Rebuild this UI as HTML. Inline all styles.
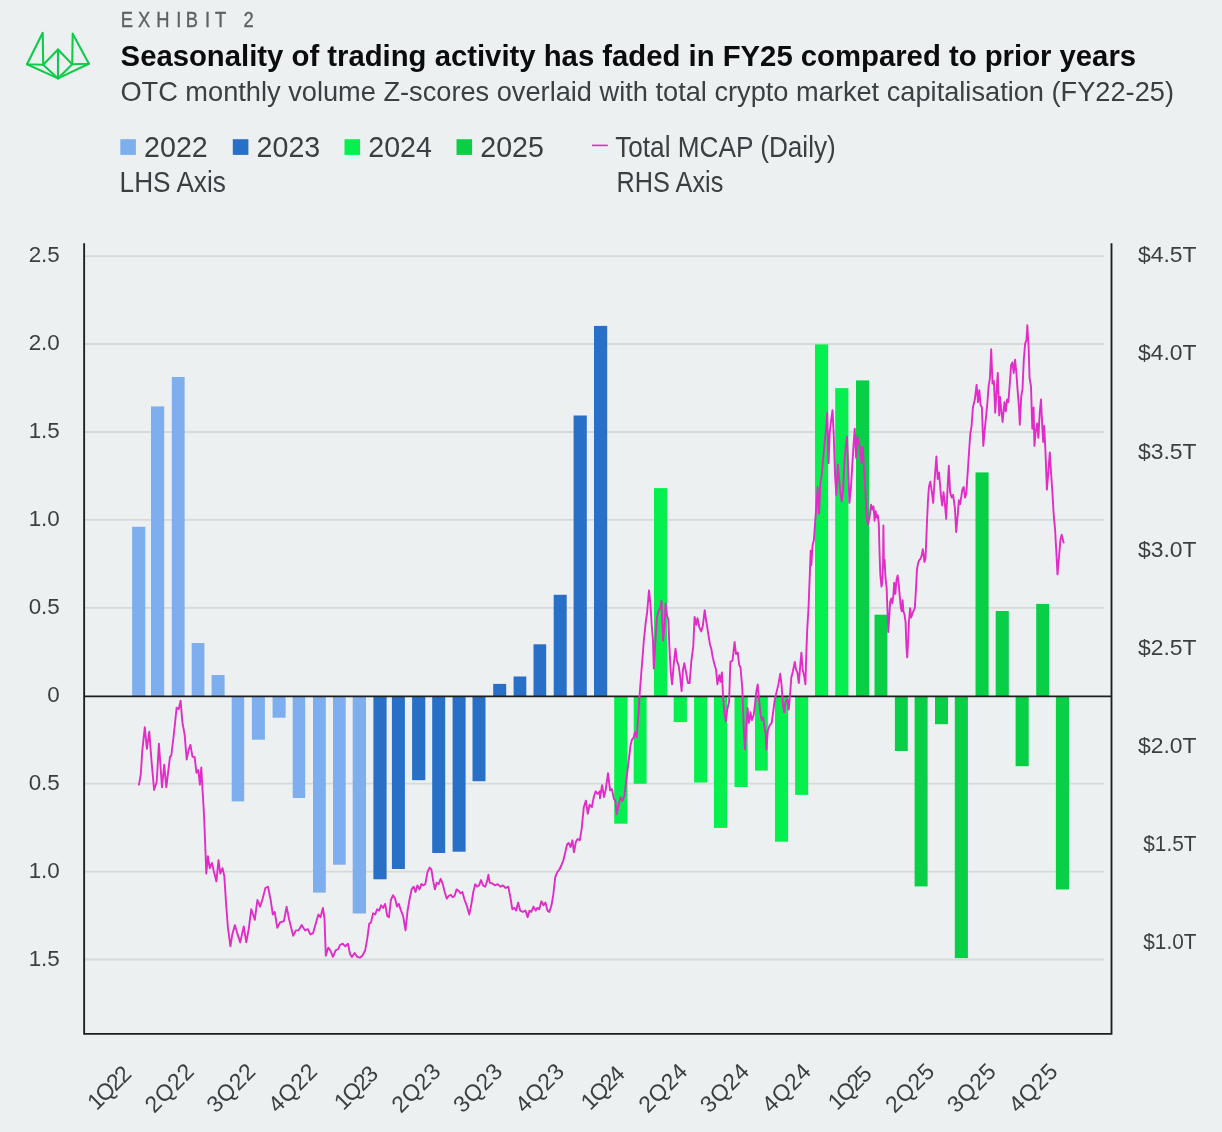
<!DOCTYPE html>
<html lang="en"><head><meta charset="utf-8"><title>Exhibit 2</title>
<style>
html,body{margin:0;padding:0;background:#ecf0f0;}
body{width:1222px;height:1132px;overflow:hidden;}
svg{display:block;}
text{font-family:"Liberation Sans",sans-serif;fill:#3b3f43;}
.ax{font-size:22.4px;}
.xl{font-size:23px;}
.lg{font-size:28.8px;}
</style></head><body>
<svg width="1222" height="1132" viewBox="0 0 1222 1132">
<rect width="1222" height="1132" fill="#ecf0f0"/>
<g fill="none" stroke="#10cb4b" stroke-width="2.1" stroke-linejoin="round" stroke-linecap="round">
<path d="M42.7 32.8 L27 64.2 L43.2 64.7 Z"/>
<path d="M72.7 33.7 L72.2 64.2 L88.9 63.7 Z"/>
<path d="M43.2 64.7 L58 49.5 L72.2 64.2"/>
<path d="M58 49.5 L58 78.4"/>
<path d="M27 64.2 L58 78.4 L88.9 63.7"/>
<path d="M43.2 64.7 L58 78.4 L72.2 64.2"/>
</g>
<text y="26.6" x="142.0 162.5 183.9 207.4 218.6 241.3 252.9 270.6 286.6" transform="scale(0.85 1)" style="font-size:21.6px;fill:#5d6164;stroke:#5d6164;stroke-width:0.35px">EXHIBIT 2</text>
<text x="120.6" y="65.6" style="font-size:29.5px;font-weight:bold;fill:#0b0c0e" textLength="1015.5" lengthAdjust="spacingAndGlyphs">Seasonality of trading activity has faded in FY25 compared to prior years</text>
<text x="120.4" y="101" style="font-size:27.5px" textLength="1053.6" lengthAdjust="spacingAndGlyphs">OTC monthly volume Z-scores overlaid with total crypto market capitalisation (FY22-25)</text>
<rect x="120.3" y="139.2" width="15.6" height="15.7" fill="#7eaeed"/>
<text class="lg" x="144.1" y="157" textLength="63.6" lengthAdjust="spacingAndGlyphs">2022</text>
<rect x="232.8" y="139.2" width="15.6" height="15.7" fill="#2870c7"/>
<text class="lg" x="256.6" y="157" textLength="63.6" lengthAdjust="spacingAndGlyphs">2023</text>
<rect x="344.5" y="139.2" width="15.6" height="15.7" fill="#05f04e"/>
<text class="lg" x="368.3" y="157" textLength="63.6" lengthAdjust="spacingAndGlyphs">2024</text>
<rect x="456.5" y="139.2" width="15.6" height="15.7" fill="#08cf46"/>
<text class="lg" x="480.3" y="157" textLength="63.6" lengthAdjust="spacingAndGlyphs">2025</text>
<text class="lg" x="119.6" y="192" textLength="106.3" lengthAdjust="spacingAndGlyphs">LHS Axis</text>
<line x1="592" y1="145.4" x2="607.8" y2="145.4" stroke="#e12cc8" stroke-width="1.6"/>
<text class="lg" x="615.2" y="156.9" textLength="220.6" lengthAdjust="spacingAndGlyphs">Total MCAP (Daily)</text>
<text class="lg" x="616.6" y="192" textLength="106.7" lengthAdjust="spacingAndGlyphs">RHS Axis</text>
<line x1="84" y1="256.1" x2="1104" y2="256.1" stroke="#d7dada" stroke-width="1.8"/>
<line x1="84" y1="344.0" x2="1104" y2="344.0" stroke="#d7dada" stroke-width="1.8"/>
<line x1="84" y1="432.0" x2="1104" y2="432.0" stroke="#d7dada" stroke-width="1.8"/>
<line x1="84" y1="519.9" x2="1104" y2="519.9" stroke="#d7dada" stroke-width="1.8"/>
<line x1="84" y1="607.8" x2="1104" y2="607.8" stroke="#d7dada" stroke-width="1.8"/>
<line x1="84" y1="783.7" x2="1104" y2="783.7" stroke="#d7dada" stroke-width="1.8"/>
<line x1="84" y1="871.6" x2="1104" y2="871.6" stroke="#d7dada" stroke-width="1.8"/>
<line x1="84" y1="959.5" x2="1104" y2="959.5" stroke="#d7dada" stroke-width="1.8"/>
<rect x="132.1" y="526.8" width="13.2" height="169.6" fill="#7eaeed"/>
<rect x="151.0" y="406.4" width="13.2" height="290.0" fill="#7eaeed"/>
<rect x="171.8" y="377.0" width="12.8" height="319.4" fill="#7eaeed"/>
<rect x="191.7" y="643.0" width="12.7" height="53.4" fill="#7eaeed"/>
<rect x="211.6" y="675.0" width="13.0" height="21.4" fill="#7eaeed"/>
<rect x="231.7" y="696.4" width="12.5" height="105.0" fill="#7eaeed"/>
<rect x="251.9" y="696.4" width="13.0" height="43.3" fill="#7eaeed"/>
<rect x="272.6" y="696.4" width="13.0" height="21.3" fill="#7eaeed"/>
<rect x="292.7" y="696.4" width="12.5" height="101.6" fill="#7eaeed"/>
<rect x="313.0" y="696.4" width="12.8" height="196.2" fill="#7eaeed"/>
<rect x="333.0" y="696.4" width="12.7" height="168.3" fill="#7eaeed"/>
<rect x="352.7" y="696.4" width="13.3" height="217.1" fill="#7eaeed"/>
<rect x="373.4" y="696.4" width="13.2" height="182.9" fill="#2870c7"/>
<rect x="391.9" y="696.4" width="13.0" height="172.6" fill="#2870c7"/>
<rect x="412.1" y="696.4" width="13.2" height="83.8" fill="#2870c7"/>
<rect x="432.2" y="696.4" width="13.0" height="156.6" fill="#2870c7"/>
<rect x="452.6" y="696.4" width="13.0" height="155.3" fill="#2870c7"/>
<rect x="472.5" y="696.4" width="13.0" height="84.8" fill="#2870c7"/>
<rect x="493.2" y="683.9" width="13.0" height="12.5" fill="#2870c7"/>
<rect x="513.6" y="676.5" width="12.7" height="19.9" fill="#2870c7"/>
<rect x="533.5" y="644.3" width="12.7" height="52.1" fill="#2870c7"/>
<rect x="553.7" y="594.8" width="13.0" height="101.6" fill="#2870c7"/>
<rect x="573.6" y="415.5" width="13.2" height="280.9" fill="#2870c7"/>
<rect x="594.0" y="325.9" width="13.2" height="370.5" fill="#2870c7"/>
<rect x="614.2" y="696.4" width="13.3" height="127.3" fill="#05f04e"/>
<rect x="633.7" y="696.4" width="12.9" height="87.4" fill="#05f04e"/>
<rect x="654.0" y="488.1" width="13.2" height="208.3" fill="#05f04e"/>
<rect x="673.7" y="696.4" width="13.2" height="25.7" fill="#05f04e"/>
<rect x="694.1" y="696.4" width="13.2" height="86.1" fill="#05f04e"/>
<rect x="713.9" y="696.4" width="13.2" height="131.5" fill="#05f04e"/>
<rect x="734.5" y="696.4" width="13.2" height="90.6" fill="#05f04e"/>
<rect x="755.0" y="696.4" width="12.8" height="74.2" fill="#05f04e"/>
<rect x="775.0" y="696.4" width="13.1" height="145.3" fill="#05f04e"/>
<rect x="795.1" y="696.4" width="13.1" height="98.5" fill="#05f04e"/>
<rect x="815.0" y="344.4" width="13.1" height="352.0" fill="#05f04e"/>
<rect x="835.2" y="388.1" width="13.2" height="308.3" fill="#05f04e"/>
<rect x="856.0" y="380.4" width="13.2" height="316.0" fill="#08cf46"/>
<rect x="874.5" y="614.7" width="12.9" height="81.7" fill="#08cf46"/>
<rect x="894.9" y="696.4" width="12.9" height="54.6" fill="#08cf46"/>
<rect x="914.6" y="696.4" width="13.0" height="190.0" fill="#08cf46"/>
<rect x="935.0" y="696.4" width="13.0" height="27.8" fill="#08cf46"/>
<rect x="954.8" y="696.4" width="13.1" height="261.7" fill="#08cf46"/>
<rect x="975.5" y="472.4" width="13.1" height="224.0" fill="#08cf46"/>
<rect x="995.7" y="611.0" width="13.1" height="85.4" fill="#08cf46"/>
<rect x="1015.6" y="696.4" width="13.1" height="69.8" fill="#08cf46"/>
<rect x="1036.2" y="603.9" width="12.9" height="92.5" fill="#08cf46"/>
<rect x="1055.9" y="696.4" width="13.1" height="193.1" fill="#08cf46"/>
<line x1="84" y1="696.4" x2="1112" y2="696.4" stroke="#1c1e20" stroke-width="1.7"/>
<path d="M139.0 784.7 L140.8 774.1 L142.2 751.6 L144.8 727.2 L146.9 748.9 L149.3 731.7 L151.4 759.5 L154.1 790.0 L156.7 782.0 L158.9 743.6 L162.0 787.3 L164.2 764.8 L166.3 787.3 L170.0 756.9 L171.3 755.5 L174.0 733.0 L176.6 707.8 L178.7 709.2 L180.6 700.7 L182.4 722.4 L184.6 734.3 L186.7 759.5 L188.5 750.2 L190.4 744.9 L192.5 756.9 L194.6 756.9 L196.5 772.8 L198.3 770.1 L199.9 784.7 L201.3 767.5 L202.6 791.3 L203.9 812.5 L205.0 839.0 L206.3 873.5 L207.9 856.2 L209.7 868.2 L211.9 862.9 L213.7 870.8 L216.4 881.4 L218.5 860.2 L220.3 873.5 L222.5 868.2 L224.3 876.1 L226.2 905.3 L227.8 926.5 L230.4 946.3 L232.3 934.4 L234.9 925.1 L237.6 934.4 L240.2 942.4 L243.7 926.5 L246.3 942.4 L248.7 929.1 L251.3 909.2 L254.8 919.8 L257.4 900.0 L260.1 906.6 L262.7 898.6 L265.4 888.0 L268.0 886.7 L270.7 900.0 L272.8 914.5 L274.7 911.9 L277.3 927.8 L280.0 922.5 L283.9 921.2 L286.6 906.6 L289.2 919.8 L293.2 935.7 L295.9 930.4 L298.5 930.4 L301.7 925.1 L305.1 930.4 L307.8 929.1 L310.4 934.4 L313.1 933.1 L315.7 923.8 L318.4 914.5 L320.5 917.2 L322.9 907.9 L324.5 918.5 L325.8 955.6 L328.2 947.7 L330.3 950.3 L333.0 956.9 L335.6 950.3 L338.3 949.0 L340.0 945.0 L342.7 943.7 L345.3 946.3 L348.0 943.7 L350.1 954.3 L351.9 956.9 L354.6 953.0 L357.2 956.9 L359.9 957.7 L362.5 955.6 L365.2 950.3 L367.3 938.4 L369.2 923.8 L371.0 922.5 L373.1 913.2 L375.2 914.5 L377.1 909.2 L379.2 910.6 L381.1 905.3 L383.2 907.9 L385.1 903.9 L387.2 915.9 L389.0 917.2 L390.9 900.0 L393.0 895.2 L395.1 898.6 L397.0 906.6 L398.8 903.9 L401.0 910.6 L403.1 915.9 L405.5 930.4 L407.6 910.6 L409.4 900.0 L411.6 889.4 L413.7 886.7 L415.5 892.0 L417.4 885.4 L419.5 889.4 L421.4 884.1 L423.5 885.4 L425.3 884.1 L427.5 872.1 L429.6 867.6 L431.4 869.5 L433.3 881.4 L434.9 889.4 L436.7 882.7 L438.6 884.1 L440.7 878.8 L442.8 884.1 L444.7 892.0 L446.8 898.6 L448.7 896.0 L450.8 894.7 L452.6 897.3 L454.5 896.0 L456.6 889.4 L458.5 890.7 L460.6 893.3 L462.4 892.0 L464.6 900.0 L466.7 905.3 L469.3 914.5 L471.2 905.3 L473.3 892.0 L475.2 884.1 L477.0 886.7 L479.1 885.4 L481.0 880.1 L483.1 885.4 L485.2 886.7 L487.1 881.4 L488.4 874.8 L489.7 882.7 L492.4 883.5 L495.0 885.4 L497.7 884.1 L500.3 886.7 L503.0 885.4 L505.6 888.0 L508.3 886.7 L510.4 897.3 L512.3 909.2 L514.4 907.9 L516.2 910.6 L518.1 902.6 L520.2 910.6 L522.9 911.9 L525.5 910.6 L527.6 917.2 L529.5 910.6 L531.3 911.9 L533.5 906.6 L535.6 910.6 L537.4 907.9 L539.3 909.2 L541.4 901.3 L543.5 905.3 L545.4 902.6 L547.5 910.6 L549.4 911.9 L551.5 905.3 L553.3 894.7 L555.2 877.4 L557.3 872.1 L559.4 869.5 L561.3 865.5 L563.4 860.2 L565.3 852.3 L567.1 844.3 L568.7 843.0 L570.6 847.0 L572.4 840.3 L574.0 852.3 L575.9 841.7 L577.7 839.0 L579.8 840.3 L581.7 828.4 L583.8 807.2 L585.9 800.6 L587.8 813.8 L589.6 804.6 L591.8 807.2 L593.9 796.6 L595.7 791.3 L597.6 794.0 L599.7 791.3 L600.0 798.4 L602.1 785.1 L604.0 797.1 L605.8 789.1 L608.0 773.2 L610.1 790.4 L611.9 789.1 L613.8 798.4 L615.4 801.0 L616.7 814.3 L618.6 805.0 L620.7 797.1 L622.5 801.0 L624.4 795.7 L626.5 778.5 L628.6 761.3 L630.5 745.4 L631.8 740.1 L633.7 737.4 L635.0 732.1 L636.6 737.4 L638.4 714.9 L639.8 692.4 L641.1 675.2 L642.4 659.3 L643.7 642.0 L645.6 623.5 L647.2 611.6 L649.0 590.4 L650.4 603.6 L651.7 624.8 L653.0 640.7 L653.8 668.5 L655.1 646.0 L657.0 616.9 L658.8 610.2 L660.4 607.6 L661.5 601.0 L663.1 640.7 L664.4 627.5 L665.7 603.6 L667.0 615.5 L668.4 619.5 L669.4 647.3 L670.8 672.5 L672.1 684.4 L673.7 664.6 L675.5 648.7 L676.9 660.6 L678.7 665.9 L680.3 677.8 L681.6 691.1 L683.0 669.9 L684.3 663.2 L686.1 672.5 L688.0 683.1 L689.6 683.1 L691.4 660.6 L693.3 646.0 L694.6 616.9 L696.2 624.8 L697.5 618.2 L699.4 627.5 L701.2 631.4 L702.8 626.1 L704.7 610.2 L706.0 619.5 L707.3 627.5 L708.7 636.7 L710.0 644.7 L711.3 648.7 L712.6 656.6 L714.5 664.6 L716.1 669.9 L717.4 684.4 L719.3 675.2 L720.6 681.8 L721.9 672.5 L723.2 699.0 L724.6 713.6 L725.9 721.5 L727.2 709.6 L729.1 701.7 L730.4 661.9 L732.5 660.6 L734.6 642.0 L736.0 654.0 L737.8 652.6 L739.1 664.6 L740.5 667.2 L742.3 688.4 L743.6 725.5 L745.0 749.4 L746.3 725.5 L747.6 708.3 L748.9 722.9 L750.5 712.3 L751.9 720.2 L753.7 714.9 L755.0 704.3 L756.4 691.1 L757.7 684.4 L759.0 699.0 L760.3 712.3 L761.7 720.2 L763.0 717.6 L764.3 725.5 L765.6 733.5 L766.4 749.4 L767.8 730.8 L769.6 725.5 L771.7 722.9 L773.1 712.3 L774.9 699.0 L776.8 691.1 L778.4 684.4 L780.2 673.8 L781.5 684.4 L782.9 704.3 L784.2 712.3 L785.5 701.7 L787.4 699.0 L788.7 709.6 L790.3 691.1 L791.3 677.8 L792.9 671.2 L794.8 661.9 L796.1 669.9 L797.4 672.5 L798.8 683.1 L800.1 667.2 L801.4 652.6 L802.7 669.9 L804.1 675.2 L805.4 684.4 L806.2 656.6 L807.2 630.1 L808.6 606.3 L809.9 571.8 L810.7 550.6 L811.3 565.1 L812.6 545.3 L813.9 540.0 L815.2 521.4 L816.6 502.9 L817.6 487.0 L819.0 513.5 L820.3 484.3 L821.9 473.7 L823.2 457.8 L824.5 444.6 L825.8 431.3 L827.2 412.8 L828.5 463.1 L829.8 431.3 L831.1 420.7 L832.5 410.1 L833.8 436.6 L835.1 476.4 L836.4 494.9 L837.8 464.4 L839.1 479.0 L840.4 492.3 L841.7 501.5 L843.1 489.6 L844.4 463.1 L845.7 447.2 L847.0 436.6 L848.4 473.7 L849.4 502.9 L850.8 489.6 L852.1 468.4 L853.4 447.2 L854.7 428.7 L856.1 457.8 L857.4 436.6 L858.7 441.9 L860.0 447.2 L861.4 463.1 L862.7 447.2 L864.0 468.4 L865.3 489.6 L866.7 515.9 L867.9 524.6 L869.5 517.5 L871.1 504.8 L872.4 509.5 L873.5 506.4 L874.6 520.7 L875.6 511.1 L876.7 517.5 L877.8 515.1 L878.8 523.8 L879.4 547.7 L880.3 574.7 L881.5 586.6 L882.3 582.7 L883.1 563.6 L883.4 525.4 L883.8 560.4 L884.6 559.6 L885.4 576.3 L886.7 589.0 L887.5 611.3 L888.3 632.0 L889.4 614.5 L890.2 601.7 L891.3 598.6 L892.3 603.3 L893.4 595.4 L894.2 582.7 L895.3 593.8 L896.6 579.5 L897.7 575.5 L898.6 582.7 L899.7 595.4 L900.9 608.1 L901.8 611.3 L902.6 600.2 L903.4 611.3 L904.5 614.5 L905.6 622.4 L906.4 646.3 L907.2 657.4 L908.2 639.9 L909.0 620.8 L910.1 608.1 L911.2 617.6 L912.1 614.5 L913.3 611.3 L914.8 608.1 L916.0 589.0 L916.9 570.0 L918.0 563.6 L919.1 560.4 L920.4 558.8 L921.7 555.6 L922.8 549.3 L923.6 554.1 L924.4 562.0 L925.5 558.8 L926.3 539.7 L927.1 519.1 L928.0 500.0 L928.9 487.0 L930.3 481.7 L931.9 492.3 L933.2 502.9 L934.5 481.7 L936.4 456.5 L937.7 479.0 L939.0 472.4 L940.9 494.9 L942.2 505.5 L943.5 492.3 L944.8 502.9 L946.2 518.8 L947.5 489.6 L948.8 465.8 L950.1 492.3 L951.7 497.6 L953.1 494.9 L954.9 508.2 L956.2 532.0 L957.6 516.1 L958.9 500.2 L960.2 504.2 L962.3 489.6 L963.7 487.0 L965.0 497.6 L966.3 493.6 L967.6 473.7 L969.0 452.5 L970.3 434.0 L971.6 426.0 L972.9 407.5 L974.8 399.5 L976.6 384.9 L978.0 402.2 L979.3 390.2 L980.6 404.8 L981.9 407.5 L983.3 445.9 L984.6 431.3 L985.9 418.1 L987.2 404.8 L988.6 386.3 L989.9 378.3 L991.2 349.2 L992.5 383.6 L993.9 381.0 L995.2 412.8 L996.5 391.6 L997.8 373.0 L999.2 415.4 L1000.0 396.9 L1001.3 410.1 L1002.6 422.0 L1004.5 402.2 L1005.8 411.4 L1007.1 399.5 L1008.4 402.2 L1009.8 383.6 L1011.1 365.1 L1012.4 362.4 L1013.7 373.0 L1015.1 359.8 L1016.4 373.0 L1017.7 391.6 L1019.0 407.5 L1019.8 424.7 L1021.2 396.9 L1022.5 388.9 L1023.8 359.8 L1025.1 343.9 L1026.5 339.9 L1027.3 325.3 L1028.6 346.5 L1029.6 378.3 L1031.0 386.3 L1032.3 428.7 L1033.6 407.5 L1034.4 445.9 L1035.7 431.3 L1037.1 423.4 L1038.4 437.9 L1039.7 412.8 L1041.0 399.5 L1042.4 428.7 L1043.2 441.9 L1044.2 426.0 L1045.5 452.5 L1046.9 489.6 L1048.2 473.7 L1049.8 452.5 L1051.1 473.7 L1052.4 492.3 L1053.8 516.1 L1055.1 529.4 L1056.4 553.2 L1057.5 574.4 L1059.1 555.9 L1060.4 540.0 L1061.7 534.7 L1063.6 542.6" fill="none" stroke="#e12cc8" stroke-width="1.9" stroke-linejoin="round" stroke-linecap="round"/>
<path d="M84.15 243.3 V1033.8 H1111.5 V243.3" fill="none" stroke="#1c1e20" stroke-width="1.85"/>
<text class="ax" x="59.8" y="262.4" text-anchor="end">2.5</text>
<text class="ax" x="59.8" y="350.3" text-anchor="end">2.0</text>
<text class="ax" x="59.8" y="438.3" text-anchor="end">1.5</text>
<text class="ax" x="59.8" y="526.2" text-anchor="end">1.0</text>
<text class="ax" x="59.8" y="614.1" text-anchor="end">0.5</text>
<text class="ax" x="59.8" y="702.0" text-anchor="end">0</text>
<text class="ax" x="59.8" y="790.0" text-anchor="end">0.5</text>
<text class="ax" x="59.8" y="877.9" text-anchor="end">1.0</text>
<text class="ax" x="59.8" y="965.8" text-anchor="end">1.5</text>
<text class="ax" x="1137.9" y="262.3" textLength="58.6" lengthAdjust="spacingAndGlyphs">$4.5T</text>
<text class="ax" x="1137.9" y="360.4" textLength="58.6" lengthAdjust="spacingAndGlyphs">$4.0T</text>
<text class="ax" x="1137.9" y="458.5" textLength="58.6" lengthAdjust="spacingAndGlyphs">$3.5T</text>
<text class="ax" x="1137.9" y="556.7" textLength="58.6" lengthAdjust="spacingAndGlyphs">$3.0T</text>
<text class="ax" x="1137.9" y="654.8" textLength="58.6" lengthAdjust="spacingAndGlyphs">$2.5T</text>
<text class="ax" x="1137.9" y="752.9" textLength="58.6" lengthAdjust="spacingAndGlyphs">$2.0T</text>
<text class="ax" x="1143.3" y="851.0" textLength="53.2" lengthAdjust="spacingAndGlyphs">$1.5T</text>
<text class="ax" x="1143.3" y="949.1" textLength="53.2" lengthAdjust="spacingAndGlyphs">$1.0T</text>
<text class="xl" text-anchor="end" textLength="51" lengthAdjust="spacing" transform="translate(132.7 1075.2) rotate(-45)">1Q22</text>
<text class="xl" text-anchor="end" textLength="58" lengthAdjust="spacing" transform="translate(195.2 1072.9) rotate(-45)">2Q22</text>
<text class="xl" text-anchor="end" textLength="58" lengthAdjust="spacing" transform="translate(256.9 1072.9) rotate(-45)">3Q22</text>
<text class="xl" text-anchor="end" textLength="58" lengthAdjust="spacing" transform="translate(318.6 1072.9) rotate(-45)">4Q22</text>
<text class="xl" text-anchor="end" textLength="51" lengthAdjust="spacing" transform="translate(379.5 1075.2) rotate(-45)">1Q23</text>
<text class="xl" text-anchor="end" textLength="58" lengthAdjust="spacing" transform="translate(442.1 1072.9) rotate(-45)">2Q23</text>
<text class="xl" text-anchor="end" textLength="58" lengthAdjust="spacing" transform="translate(503.8 1072.9) rotate(-45)">3Q23</text>
<text class="xl" text-anchor="end" textLength="58" lengthAdjust="spacing" transform="translate(565.5 1072.9) rotate(-45)">4Q23</text>
<text class="xl" text-anchor="end" textLength="51" lengthAdjust="spacing" transform="translate(626.4 1075.2) rotate(-45)">1Q24</text>
<text class="xl" text-anchor="end" textLength="58" lengthAdjust="spacing" transform="translate(688.9 1072.9) rotate(-45)">2Q24</text>
<text class="xl" text-anchor="end" textLength="58" lengthAdjust="spacing" transform="translate(750.6 1072.9) rotate(-45)">3Q24</text>
<text class="xl" text-anchor="end" textLength="58" lengthAdjust="spacing" transform="translate(812.3 1072.9) rotate(-45)">4Q24</text>
<text class="xl" text-anchor="end" textLength="51" lengthAdjust="spacing" transform="translate(873.2 1075.2) rotate(-45)">1Q25</text>
<text class="xl" text-anchor="end" textLength="58" lengthAdjust="spacing" transform="translate(935.7 1072.9) rotate(-45)">2Q25</text>
<text class="xl" text-anchor="end" textLength="58" lengthAdjust="spacing" transform="translate(997.4 1072.9) rotate(-45)">3Q25</text>
<text class="xl" text-anchor="end" textLength="58" lengthAdjust="spacing" transform="translate(1059.1 1072.9) rotate(-45)">4Q25</text>
</svg>
</body></html>
